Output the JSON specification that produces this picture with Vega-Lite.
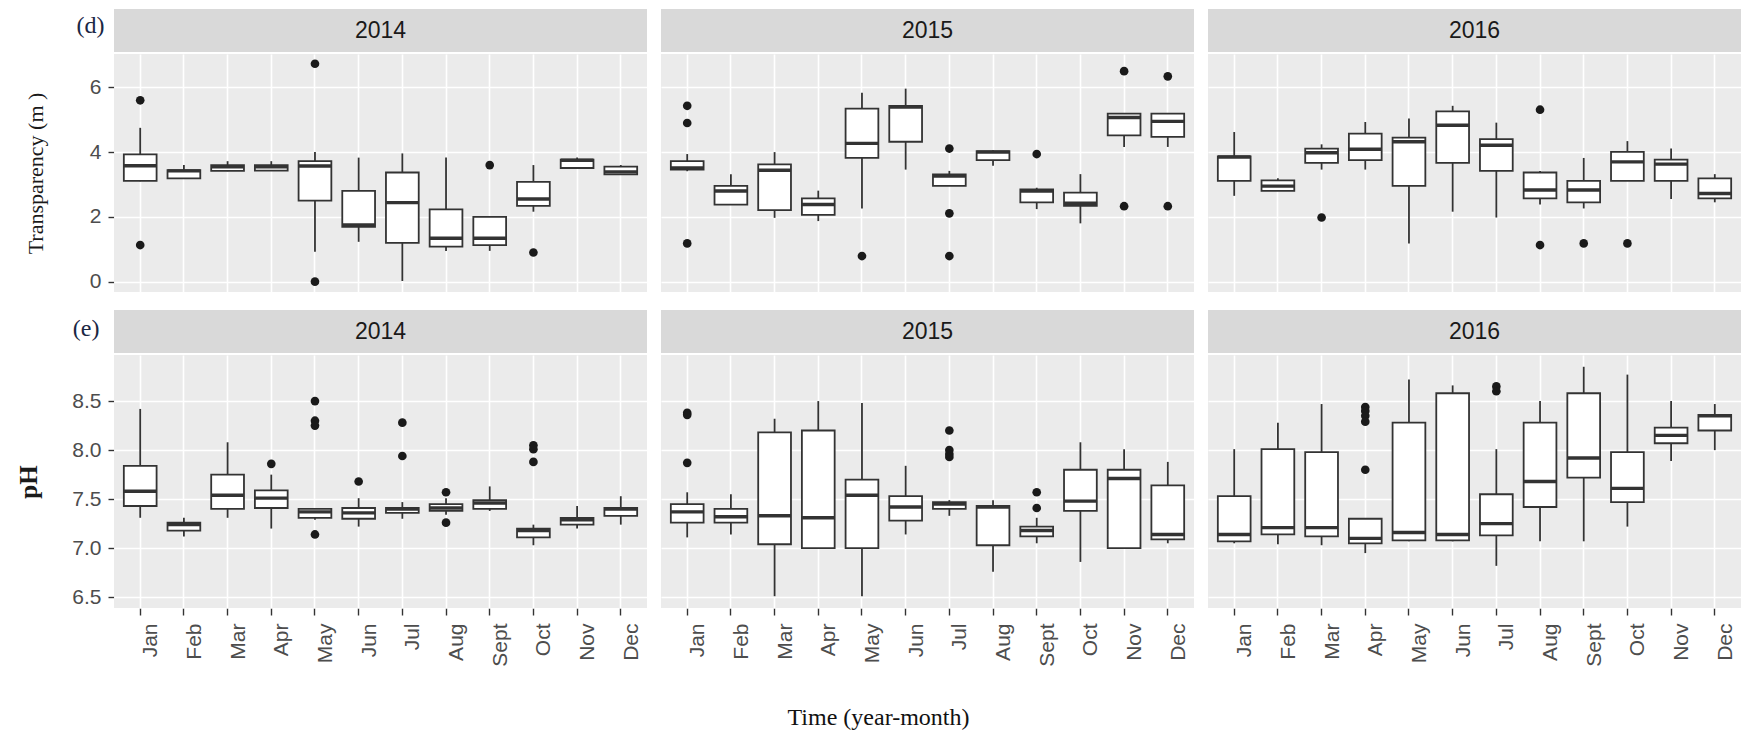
{
  "$schema": "https://vega.github.io/schema/vega-lite/v6.json",
  "padding": {"left": 16, "top": 9, "right": 0, "bottom": 0},
  "background": "white",
  "title": {"text": "Time (year-month)", "orient": "bottom", "anchor": "middle", "font": "Liberation Serif", "fontSize": 24, "fontWeight": "normal", "color": "#111111", "offset": 40},
  "spacing": 2,
  "datasets": {
    "all": [
      {"variable":"T","year":"2014","month":"Jan","lower":3.1,"q1":3.11,"median":3.58,"q3":3.93,"upper":4.75},
      {"variable":"T","year":"2014","month":"Feb","lower":3.18,"q1":3.19,"median":3.42,"q3":3.44,"upper":3.6},
      {"variable":"T","year":"2014","month":"Mar","lower":3.41,"q1":3.42,"median":3.55,"q3":3.6,"upper":3.72},
      {"variable":"T","year":"2014","month":"Apr","lower":3.42,"q1":3.43,"median":3.55,"q3":3.6,"upper":3.72},
      {"variable":"T","year":"2014","month":"May","lower":0.92,"q1":2.5,"median":3.57,"q3":3.72,"upper":4.0},
      {"variable":"T","year":"2014","month":"Jun","lower":1.23,"q1":1.69,"median":1.75,"q3":2.8,"upper":3.83},
      {"variable":"T","year":"2014","month":"Jul","lower":0.02,"q1":1.2,"median":2.44,"q3":3.37,"upper":3.96},
      {"variable":"T","year":"2014","month":"Aug","lower":0.95,"q1":1.08,"median":1.34,"q3":2.23,"upper":3.83},
      {"variable":"T","year":"2014","month":"Sept","lower":0.95,"q1":1.13,"median":1.34,"q3":2.0,"upper":2.0},
      {"variable":"T","year":"2014","month":"Oct","lower":2.16,"q1":2.34,"median":2.55,"q3":3.08,"upper":3.6},
      {"variable":"T","year":"2014","month":"Nov","lower":3.5,"q1":3.51,"median":3.75,"q3":3.77,"upper":3.83},
      {"variable":"T","year":"2014","month":"Dec","lower":3.31,"q1":3.31,"median":3.39,"q3":3.55,"upper":3.6},
      {"variable":"T","year":"2015","month":"Jan","lower":3.41,"q1":3.46,"median":3.51,"q3":3.72,"upper":3.94},
      {"variable":"T","year":"2015","month":"Feb","lower":2.38,"q1":2.38,"median":2.8,"q3":2.96,"upper":3.32},
      {"variable":"T","year":"2015","month":"Mar","lower":1.97,"q1":2.21,"median":3.44,"q3":3.62,"upper":4.0},
      {"variable":"T","year":"2015","month":"Apr","lower":1.87,"q1":2.06,"median":2.38,"q3":2.57,"upper":2.81},
      {"variable":"T","year":"2015","month":"May","lower":2.26,"q1":3.82,"median":4.27,"q3":5.34,"upper":5.83},
      {"variable":"T","year":"2015","month":"Jun","lower":3.46,"q1":4.32,"median":5.39,"q3":5.43,"upper":5.96},
      {"variable":"T","year":"2015","month":"Jul","lower":2.96,"q1":2.96,"median":3.26,"q3":3.31,"upper":3.42},
      {"variable":"T","year":"2015","month":"Aug","lower":3.58,"q1":3.75,"median":4.0,"q3":4.03,"upper":4.06},
      {"variable":"T","year":"2015","month":"Sept","lower":2.24,"q1":2.45,"median":2.8,"q3":2.85,"upper":2.9},
      {"variable":"T","year":"2015","month":"Oct","lower":1.8,"q1":2.34,"median":2.42,"q3":2.75,"upper":3.32},
      {"variable":"T","year":"2015","month":"Nov","lower":4.16,"q1":4.52,"median":5.07,"q3":5.19,"upper":5.19},
      {"variable":"T","year":"2015","month":"Dec","lower":4.16,"q1":4.47,"median":4.95,"q3":5.19,"upper":5.19},
      {"variable":"T","year":"2016","month":"Jan","lower":2.65,"q1":3.11,"median":3.85,"q3":3.87,"upper":4.62},
      {"variable":"T","year":"2016","month":"Feb","lower":2.8,"q1":2.8,"median":2.95,"q3":3.13,"upper":3.19},
      {"variable":"T","year":"2016","month":"Mar","lower":3.46,"q1":3.67,"median":3.98,"q3":4.11,"upper":4.24},
      {"variable":"T","year":"2016","month":"Apr","lower":3.46,"q1":3.75,"median":4.09,"q3":4.57,"upper":4.93},
      {"variable":"T","year":"2016","month":"May","lower":1.18,"q1":2.96,"median":4.32,"q3":4.45,"upper":5.04},
      {"variable":"T","year":"2016","month":"Jun","lower":2.16,"q1":3.67,"median":4.83,"q3":5.26,"upper":5.43},
      {"variable":"T","year":"2016","month":"Jul","lower":1.98,"q1":3.42,"median":4.21,"q3":4.4,"upper":4.91},
      {"variable":"T","year":"2016","month":"Aug","lower":2.38,"q1":2.57,"median":2.83,"q3":3.37,"upper":3.42},
      {"variable":"T","year":"2016","month":"Sept","lower":2.26,"q1":2.45,"median":2.83,"q3":3.11,"upper":3.82},
      {"variable":"T","year":"2016","month":"Oct","lower":3.11,"q1":3.11,"median":3.7,"q3":4.01,"upper":4.34},
      {"variable":"T","year":"2016","month":"Nov","lower":2.55,"q1":3.11,"median":3.63,"q3":3.77,"upper":4.11},
      {"variable":"T","year":"2016","month":"Dec","lower":2.45,"q1":2.57,"median":2.72,"q3":3.19,"upper":3.32},
      {"variable":"T","year":"2014","month":"Jan","outlier":5.6},
      {"variable":"T","year":"2014","month":"Jan","outlier":1.13},
      {"variable":"T","year":"2014","month":"May","outlier":6.73},
      {"variable":"T","year":"2014","month":"May","outlier":0.0},
      {"variable":"T","year":"2014","month":"Sept","outlier":3.6},
      {"variable":"T","year":"2014","month":"Oct","outlier":0.9},
      {"variable":"T","year":"2015","month":"Jan","outlier":5.43},
      {"variable":"T","year":"2015","month":"Jan","outlier":4.9},
      {"variable":"T","year":"2015","month":"Jan","outlier":1.18},
      {"variable":"T","year":"2015","month":"May","outlier":0.79},
      {"variable":"T","year":"2015","month":"Jul","outlier":4.11},
      {"variable":"T","year":"2015","month":"Jul","outlier":2.11},
      {"variable":"T","year":"2015","month":"Jul","outlier":0.79},
      {"variable":"T","year":"2015","month":"Sept","outlier":3.94},
      {"variable":"T","year":"2015","month":"Nov","outlier":6.5},
      {"variable":"T","year":"2015","month":"Nov","outlier":2.33},
      {"variable":"T","year":"2015","month":"Dec","outlier":6.34},
      {"variable":"T","year":"2015","month":"Dec","outlier":2.33},
      {"variable":"T","year":"2016","month":"Mar","outlier":1.98},
      {"variable":"T","year":"2016","month":"Aug","outlier":5.31},
      {"variable":"T","year":"2016","month":"Aug","outlier":1.13},
      {"variable":"T","year":"2016","month":"Sept","outlier":1.18},
      {"variable":"T","year":"2016","month":"Oct","outlier":1.18},
      {"variable":"pH","year":"2014","month":"Jan","lower":7.31,"q1":7.43,"median":7.58,"q3":7.84,"upper":8.42},
      {"variable":"pH","year":"2014","month":"Feb","lower":7.12,"q1":7.18,"median":7.24,"q3":7.26,"upper":7.31},
      {"variable":"pH","year":"2014","month":"Mar","lower":7.31,"q1":7.4,"median":7.54,"q3":7.75,"upper":8.08},
      {"variable":"pH","year":"2014","month":"Apr","lower":7.2,"q1":7.41,"median":7.51,"q3":7.59,"upper":7.75},
      {"variable":"pH","year":"2014","month":"May","lower":7.29,"q1":7.31,"median":7.37,"q3":7.4,"upper":7.41},
      {"variable":"pH","year":"2014","month":"Jun","lower":7.22,"q1":7.3,"median":7.36,"q3":7.41,"upper":7.51},
      {"variable":"pH","year":"2014","month":"Jul","lower":7.3,"q1":7.36,"median":7.4,"q3":7.41,"upper":7.47},
      {"variable":"pH","year":"2014","month":"Aug","lower":7.34,"q1":7.38,"median":7.41,"q3":7.45,"upper":7.51},
      {"variable":"pH","year":"2014","month":"Sept","lower":7.38,"q1":7.4,"median":7.46,"q3":7.49,"upper":7.63},
      {"variable":"pH","year":"2014","month":"Oct","lower":7.03,"q1":7.11,"median":7.18,"q3":7.2,"upper":7.24},
      {"variable":"pH","year":"2014","month":"Nov","lower":7.2,"q1":7.24,"median":7.29,"q3":7.31,"upper":7.43},
      {"variable":"pH","year":"2014","month":"Dec","lower":7.24,"q1":7.33,"median":7.4,"q3":7.41,"upper":7.53},
      {"variable":"pH","year":"2015","month":"Jan","lower":7.11,"q1":7.26,"median":7.37,"q3":7.45,"upper":7.57},
      {"variable":"pH","year":"2015","month":"Feb","lower":7.14,"q1":7.26,"median":7.32,"q3":7.4,"upper":7.55},
      {"variable":"pH","year":"2015","month":"Mar","lower":6.51,"q1":7.04,"median":7.33,"q3":8.18,"upper":8.32},
      {"variable":"pH","year":"2015","month":"Apr","lower":7.0,"q1":7.0,"median":7.31,"q3":8.2,"upper":8.5},
      {"variable":"pH","year":"2015","month":"May","lower":6.51,"q1":7.0,"median":7.54,"q3":7.7,"upper":8.48},
      {"variable":"pH","year":"2015","month":"Jun","lower":7.14,"q1":7.28,"median":7.42,"q3":7.53,"upper":7.84},
      {"variable":"pH","year":"2015","month":"Jul","lower":7.33,"q1":7.4,"median":7.45,"q3":7.47,"upper":7.49},
      {"variable":"pH","year":"2015","month":"Aug","lower":6.76,"q1":7.03,"median":7.42,"q3":7.43,"upper":7.49},
      {"variable":"pH","year":"2015","month":"Sept","lower":7.05,"q1":7.12,"median":7.18,"q3":7.22,"upper":7.31},
      {"variable":"pH","year":"2015","month":"Oct","lower":6.86,"q1":7.38,"median":7.48,"q3":7.8,"upper":8.08},
      {"variable":"pH","year":"2015","month":"Nov","lower":7.0,"q1":7.0,"median":7.71,"q3":7.8,"upper":8.01},
      {"variable":"pH","year":"2015","month":"Dec","lower":7.05,"q1":7.09,"median":7.14,"q3":7.64,"upper":7.88},
      {"variable":"pH","year":"2016","month":"Jan","lower":7.05,"q1":7.07,"median":7.14,"q3":7.53,"upper":8.01},
      {"variable":"pH","year":"2016","month":"Feb","lower":7.04,"q1":7.14,"median":7.21,"q3":8.01,"upper":8.28},
      {"variable":"pH","year":"2016","month":"Mar","lower":7.03,"q1":7.12,"median":7.21,"q3":7.98,"upper":8.47},
      {"variable":"pH","year":"2016","month":"Apr","lower":6.95,"q1":7.05,"median":7.1,"q3":7.3,"upper":7.3},
      {"variable":"pH","year":"2016","month":"May","lower":7.07,"q1":7.08,"median":7.16,"q3":8.28,"upper":8.72},
      {"variable":"pH","year":"2016","month":"Jun","lower":7.07,"q1":7.08,"median":7.14,"q3":8.58,"upper":8.66},
      {"variable":"pH","year":"2016","month":"Jul","lower":6.82,"q1":7.13,"median":7.25,"q3":7.55,"upper":8.01},
      {"variable":"pH","year":"2016","month":"Aug","lower":7.07,"q1":7.42,"median":7.68,"q3":8.28,"upper":8.5},
      {"variable":"pH","year":"2016","month":"Sept","lower":7.07,"q1":7.72,"median":7.92,"q3":8.58,"upper":8.85},
      {"variable":"pH","year":"2016","month":"Oct","lower":7.22,"q1":7.47,"median":7.61,"q3":7.98,"upper":8.77},
      {"variable":"pH","year":"2016","month":"Nov","lower":7.89,"q1":8.07,"median":8.15,"q3":8.23,"upper":8.5},
      {"variable":"pH","year":"2016","month":"Dec","lower":8.0,"q1":8.2,"median":8.35,"q3":8.36,"upper":8.47},
      {"variable":"pH","year":"2014","month":"Apr","outlier":7.86},
      {"variable":"pH","year":"2014","month":"May","outlier":8.5},
      {"variable":"pH","year":"2014","month":"May","outlier":8.3},
      {"variable":"pH","year":"2014","month":"May","outlier":8.25},
      {"variable":"pH","year":"2014","month":"May","outlier":7.14},
      {"variable":"pH","year":"2014","month":"Jun","outlier":7.68},
      {"variable":"pH","year":"2014","month":"Jul","outlier":8.28},
      {"variable":"pH","year":"2014","month":"Jul","outlier":7.94},
      {"variable":"pH","year":"2014","month":"Aug","outlier":7.57},
      {"variable":"pH","year":"2014","month":"Aug","outlier":7.26},
      {"variable":"pH","year":"2014","month":"Oct","outlier":8.05},
      {"variable":"pH","year":"2014","month":"Oct","outlier":8.01},
      {"variable":"pH","year":"2014","month":"Oct","outlier":7.88},
      {"variable":"pH","year":"2015","month":"Jan","outlier":8.38},
      {"variable":"pH","year":"2015","month":"Jan","outlier":8.36},
      {"variable":"pH","year":"2015","month":"Jan","outlier":7.87},
      {"variable":"pH","year":"2015","month":"Jul","outlier":8.2},
      {"variable":"pH","year":"2015","month":"Jul","outlier":8.0},
      {"variable":"pH","year":"2015","month":"Jul","outlier":7.96},
      {"variable":"pH","year":"2015","month":"Jul","outlier":7.93},
      {"variable":"pH","year":"2015","month":"Sept","outlier":7.57},
      {"variable":"pH","year":"2015","month":"Sept","outlier":7.41},
      {"variable":"pH","year":"2016","month":"Apr","outlier":8.44},
      {"variable":"pH","year":"2016","month":"Apr","outlier":8.4},
      {"variable":"pH","year":"2016","month":"Apr","outlier":8.35},
      {"variable":"pH","year":"2016","month":"Apr","outlier":8.29},
      {"variable":"pH","year":"2016","month":"Apr","outlier":7.8},
      {"variable":"pH","year":"2016","month":"Jul","outlier":8.65},
      {"variable":"pH","year":"2016","month":"Jul","outlier":8.6}
    ]
  },
  "vconcat": [
    {
      "data": {"values": [{"year":"2014","tag":"(d)"},{"year":"2015","tag":"(d)"},{"year":"2016","tag":"(d)"}]},
      "facet": {"column": {"field": "year", "type": "nominal", "header": {"labels": false, "title": null}}},
      "spacing": 14,
      "spec": {
        "width": 533, "height": 43,
        "view": {"fill": "#D9D9D9", "stroke": null},
        "mark": {"type": "text", "font": "Liberation Sans", "fontSize": 23, "color": "#1A1A1A"},
        "encoding": {
          "text": {"field": "year"},
          "y": {"field": "tag", "type": "nominal", "title": null,
                "axis": {"domain": false, "ticks": false, "grid": false, "labelFont": "Liberation Serif", "labelFontSize": 24, "labelColor": "#1A2744", "labelPadding": 10, "labelOffset": -5}}
        }
      }
    },
    {
      "data": {"name": "all"},
      "transform": [{"filter": "datum.variable === 'T'"}],
      "facet": {"column": {"field": "year", "type": "nominal", "header": {"labels": false, "title": null}}},
      "spacing": 14,
      "spec": {
        "width": 533, "height": 238,
        "encoding": {
          "x": {"field": "month", "type": "nominal", "title": null,
                "sort": ["Jan","Feb","Mar","Apr","May","Jun","Jul","Aug","Sept","Oct","Nov","Dec"],
                "scale": {"paddingInner": 0.25, "paddingOuter": 0.225},
                "axis": {"labels": false, "ticks": true, "tickSize": 15, "tickColor": "rgba(0,0,0,0)", "domain": false, "grid": true, "gridColor": "#FFFFFF", "gridWidth": 1.6, "bandPosition": 0.5}}
        },
        "layer": [
          {
            "transform": [{"filter": "isValid(datum.q1)"}],
            "mark": {"type": "rule", "color": "#333333", "strokeWidth": 1.8},
            "encoding": {
              "y": {"field": "lower", "type": "quantitative", "title": "Transparency (m )",
                    "scale": {"domain": [-0.32, 7.03], "nice": false, "zero": false},
                    "axis": {"values": [0,1,2,3,4,5,6,7],
                             "labelExpr": "datum.value % 2 === 0 ? datum.label : ''",
                             "gridColor": "#FFFFFF",
                             "gridWidth": {"condition": {"test": "datum.value % 2 === 0", "value": 1.6}, "value": 0.8},
                             "tickOpacity": {"condition": {"test": "datum.value % 2 === 0", "value": 1}, "value": 0},
                             "tickSize": 6, "tickColor": "#333333", "tickWidth": 1.4, "domain": false,
                             "labelFontSize": 21, "labelColor": "#4D4D4D", "labelPadding": 7, "labelOverlap": false, "labelFlush": false,
                             "titleFont": "Liberation Serif", "titleFontSize": 22, "titleFontWeight": "normal", "titleColor": "#1A1A1A",
                             "titleX": -79, "titleBaseline": "middle"}},
              "y2": {"field": "upper"}
            }
          },
          {
            "transform": [{"filter": "isValid(datum.q1)"}],
            "mark": {"type": "bar", "fill": "#FFFFFF", "stroke": "#333333", "strokeWidth": 1.8},
            "encoding": {"y": {"field": "q1", "type": "quantitative", "title": "Transparency (m )"}, "y2": {"field": "q3"}}
          },
          {
            "transform": [{"filter": "isValid(datum.q1)"}],
            "mark": {"type": "bar", "fill": "#333333", "stroke": "#333333", "strokeWidth": 3.4},
            "encoding": {"y": {"field": "median", "type": "quantitative", "title": "Transparency (m )"}, "y2": {"field": "median"}}
          },
          {
            "transform": [{"filter": "isValid(datum.outlier)"}],
            "mark": {"type": "point", "filled": true, "color": "#1A1A1A", "size": 75, "opacity": 1},
            "encoding": {"y": {"field": "outlier", "type": "quantitative", "title": "Transparency (m )"}}
          }
        ]
      }
    },
    {
      "data": {"values": [{"year":"2014","tag":"(e)"},{"year":"2015","tag":"(e)"},{"year":"2016","tag":"(e)"}]},
      "facet": {"column": {"field": "year", "type": "nominal", "header": {"labels": false, "title": null}}},
      "spacing": 14,
      "spec": {
        "width": 533, "height": 43,
        "view": {"fill": "#D9D9D9", "stroke": null},
        "mark": {"type": "text", "font": "Liberation Sans", "fontSize": 23, "color": "#1A1A1A"},
        "encoding": {
          "text": {"field": "year"},
          "y": {"field": "tag", "type": "nominal", "title": null,
                "axis": {"domain": false, "ticks": false, "grid": false, "labelFont": "Liberation Serif", "labelFontSize": 24, "labelColor": "#1A2744", "labelPadding": 15, "labelOffset": -3}}
        }
      }
    },
    {
      "data": {"name": "all"},
      "transform": [{"filter": "datum.variable === 'pH'"}],
      "facet": {"column": {"field": "year", "type": "nominal", "header": {"labels": false, "title": null}}},
      "spacing": 14,
      "spec": {
        "width": 533, "height": 253,
        "encoding": {
          "x": {"field": "month", "type": "nominal", "title": null,
                "sort": ["Jan","Feb","Mar","Apr","May","Jun","Jul","Aug","Sept","Oct","Nov","Dec"],
                "scale": {"paddingInner": 0.25, "paddingOuter": 0.225},
                "axis": {"labelAngle": 270, "labelBaseline": "top", "labelAlign": "right", "labelFontSize": 21, "labelColor": "#4D4D4D", "labelPadding": 8, "labelOverlap": false,
                         "ticks": true, "tickSize": 7, "tickColor": "#333333", "tickWidth": 1.4, "domain": false,
                         "grid": true, "gridColor": "#FFFFFF", "gridWidth": 1.6, "bandPosition": 0.5}}
        },
        "layer": [
          {
            "transform": [{"filter": "isValid(datum.q1)"}],
            "mark": {"type": "rule", "color": "#333333", "strokeWidth": 1.8},
            "encoding": {
              "y": {"field": "lower", "type": "quantitative", "title": "pH",
                    "scale": {"domain": [6.39, 8.97], "nice": false, "zero": false},
                    "axis": {"values": [6.5,6.75,7,7.25,7.5,7.75,8,8.25,8.5,8.75], "format": ".1f",
                             "labelExpr": "abs(datum.value*2 - round(datum.value*2)) < 0.01 ? datum.label : ''",
                             "gridColor": "#FFFFFF",
                             "gridWidth": {"condition": {"test": "abs(datum.value*2 - round(datum.value*2)) < 0.01", "value": 1.6}, "value": 0.8},
                             "tickOpacity": {"condition": {"test": "abs(datum.value*2 - round(datum.value*2)) < 0.01", "value": 1}, "value": 0},
                             "tickSize": 6, "tickColor": "#333333", "tickWidth": 1.4, "domain": false,
                             "labelFontSize": 21, "labelColor": "#4D4D4D", "labelPadding": 7, "labelOverlap": false, "labelFlush": false,
                             "titleFont": "Liberation Serif", "titleFontSize": 25, "titleFontWeight": "bold", "titleColor": "#1A1A1A",
                             "titleX": -86, "titleBaseline": "middle"}},
              "y2": {"field": "upper"}
            }
          },
          {
            "transform": [{"filter": "isValid(datum.q1)"}],
            "mark": {"type": "bar", "fill": "#FFFFFF", "stroke": "#333333", "strokeWidth": 1.8},
            "encoding": {"y": {"field": "q1", "type": "quantitative", "title": "pH"}, "y2": {"field": "q3"}}
          },
          {
            "transform": [{"filter": "isValid(datum.q1)"}],
            "mark": {"type": "bar", "fill": "#333333", "stroke": "#333333", "strokeWidth": 3.4},
            "encoding": {"y": {"field": "median", "type": "quantitative", "title": "pH"}, "y2": {"field": "median"}}
          },
          {
            "transform": [{"filter": "isValid(datum.outlier)"}],
            "mark": {"type": "point", "filled": true, "color": "#1A1A1A", "size": 75, "opacity": 1},
            "encoding": {"y": {"field": "outlier", "type": "quantitative", "title": "pH"}}
          }
        ]
      }
    }
  ],
  "config": {
    "view": {"stroke": null, "fill": "#EBEBEB"},
    "font": "Liberation Sans",
    "axis": {"labelFont": "Liberation Sans", "titleFont": "Liberation Serif"}
  }
}
